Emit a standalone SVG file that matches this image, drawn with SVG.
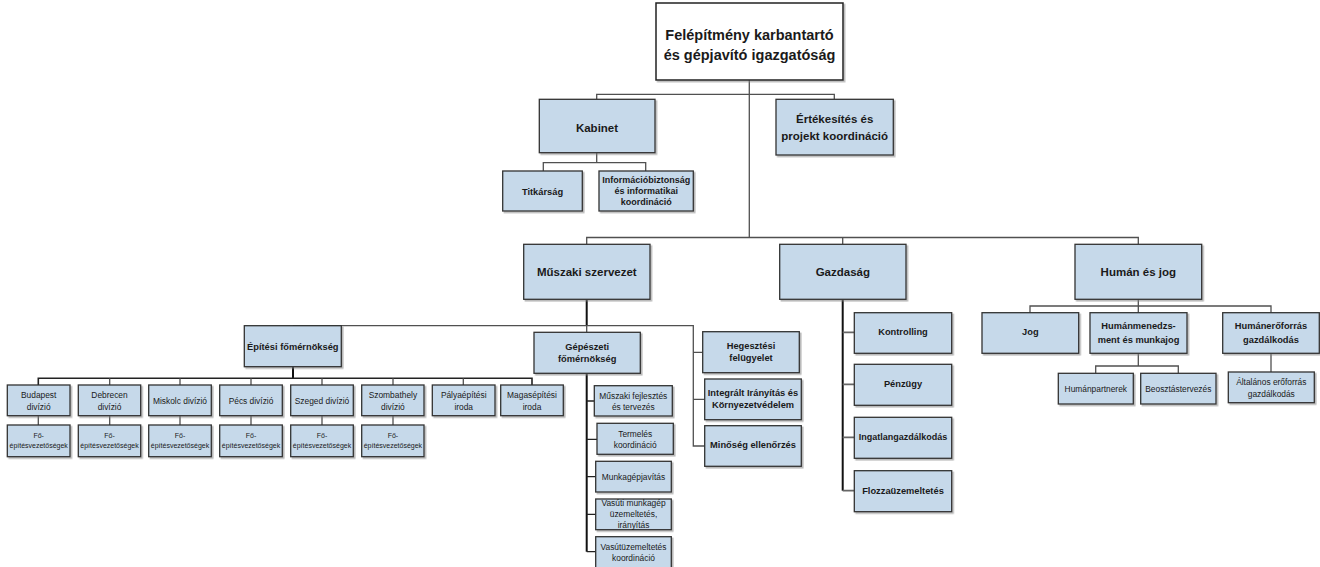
<svg xmlns="http://www.w3.org/2000/svg" width="1320" height="567" viewBox="0 0 1320 567">
  <defs>
    <filter id="sh" x="-10%" y="-10%" width="130%" height="140%">
      <feDropShadow dx="1.6" dy="1.6" stdDeviation="0.5" flood-color="#7f7f7f" flood-opacity="0.55"/>
    </filter>
    <style>
      .bx { fill: #c6d9ea; stroke: #333; stroke-width: 1.3; filter: url(#sh); }
      .top { fill: #fff; stroke: #222; stroke-width: 1.5; filter: url(#sh); }
      .ln { fill: none; stroke: #505050; stroke-width: 1.3; }
      .lk { fill: none; stroke: #111; stroke-width: 2; }
      text { font-family: "Liberation Sans", Arial, sans-serif; fill: #1a1a1a; text-anchor: middle; }
      .t0 { font-size: 14.5px; font-weight: bold; }
      .t1 { font-size: 11.5px; font-weight: bold; }
      .t2 { font-size: 9.3px; font-weight: bold; }
      .t3 { font-size: 8.4px; }
      .t4 { font-size: 7px; }
    </style>
  </defs>
  <rect width="1320" height="567" fill="#fff"/>

  <g id="connectors">
    <!-- top level -->
    <path class="ln" d="M749.3 80 V237.5 M596.7 99.3 V94.3 H834.3 V99.3"/>
    <path class="ln" d="M596.7 152.7 V162.7 M543.3 171 V162.7 H645.7 V171"/>
    <path class="ln" d="M586.7 244.3 V237.5 H1138.3 V244.3 M842.7 237.5 V244.3"/>
    <!-- technical branch -->
    <path class="lk" d="M586.7 299.3 V325.7"/>
    <path class="ln" d="M293 325.7 H693.3 V446 H704.7 M586.7 325.7 V332.3 M693.3 352.3 H702.7 M693.3 399.3 H704.7"/>
    <path class="lk" d="M293 366.7 V378.3"/>
    <path class="ln" style="stroke:#222;stroke-width:1.6" d="M38.3 385 V378.3 H532 V385"/>
    <path class="ln" d="M109.7 378.3 V385 M180 378.3 V385 M251 378.3 V385 M322 378.3 V385 M393 378.3 V385 M463.3 378.3 V385"/>
    <path class="ln" d="M38.3 415.7 V425 M109.7 415.7 V425 M180 415.7 V425 M251 415.7 V425 M322 415.7 V425 M393 415.7 V425"/>
    <path class="lk" d="M586.7 373.3 V551.7"/>
    <path class="ln" style="stroke:#222" d="M586.7 401 H594.3 M586.7 439.3 H597 M586.7 476.7 H595.7 M586.7 514.3 H595.7 M586.7 551.7 H595.7"/>
    <!-- economy branch -->
    <path class="lk" d="M842.7 299.3 V490.7"/>
    <path class="ln" style="stroke:#666;stroke-width:1.8" d="M842.7 332.3 H854.3 M842.7 384.3 H854.3 M842.7 437.3 H854.3 M842.7 490.7 H854.3"/>
    <!-- human branch -->
    <path class="ln" d="M1138.3 299.3 V306 M1030 312.7 V306 H1271 V312.7 M1138.3 306 V312.7"/>
    <path class="ln" d="M1138.3 353.3 V366 M1095.7 373.3 V366 H1178.3 V373.3"/>
    <path class="ln" d="M1271 353.3 V372"/>
  </g>

  <g id="n-igazgatosag">
    <rect class="top" x="656" y="3" width="187" height="77"/>
    <text class="t0" x="749.5" y="40">Felépítmény karbantartó</text>
    <text class="t0" x="749.5" y="60">és gépjavító igazgatóság</text>
  </g>

  <g id="n-kabinet">
    <rect class="bx" x="539.3" y="99.3" width="115.7" height="53.4"/>
    <text class="t1" x="597" y="131.5">Kabinet</text>
  </g>
  <g id="n-ertekesites">
    <rect class="bx" x="776" y="99.3" width="117.3" height="55.7"/>
    <text class="t1" x="834.7" y="123">Értékesítés és</text>
    <text class="t1" x="834.7" y="140">projekt koordináció</text>
  </g>
  <g id="n-titkarsag">
    <rect class="bx" x="502.7" y="171" width="79.6" height="40"/>
    <text class="t2" x="542.5" y="194.7">Titkárság</text>
  </g>
  <g id="n-infobiztonsag">
    <rect class="bx" x="599" y="171" width="94.3" height="40"/>
    <text class="t2" x="646.2" y="182.5" style="font-size:9px">Információbiztonság</text>
    <text class="t2" x="646.2" y="193.5" style="font-size:9px">és informatikai</text>
    <text class="t2" x="646.2" y="204.5" style="font-size:9px">koordináció</text>
  </g>

  <g id="n-muszaki">
    <rect class="bx" x="523.7" y="244.3" width="126.3" height="55"/>
    <text class="t1" x="586.8" y="275.5">Műszaki szervezet</text>
  </g>
  <g id="n-gazdasag">
    <rect class="bx" x="779.7" y="244.3" width="126.3" height="55"/>
    <text class="t1" x="842.8" y="275.5">Gazdaság</text>
  </g>
  <g id="n-human">
    <rect class="bx" x="1075" y="244.3" width="126.7" height="55"/>
    <text class="t1" x="1138.3" y="275.5">Humán és jog</text>
  </g>

  <g id="n-epitesi">
    <rect class="bx" x="244.3" y="325.7" width="97" height="41"/>
    <text class="t2" x="292.8" y="349.8">Építési főmérnökség</text>
  </g>
  <g id="n-gepeszeti">
    <rect class="bx" x="534" y="332.3" width="106.3" height="41"/>
    <text class="t2" x="587.2" y="349.8">Gépészeti</text>
    <text class="t2" x="587.2" y="362.4">főmérnökség</text>
  </g>
  <g id="n-hegesztesi">
    <rect class="bx" x="702.7" y="331.7" width="96.6" height="41"/>
    <text class="t2" x="751" y="348.8">Hegesztési</text>
    <text class="t2" x="751" y="361.4">felügyelet</text>
  </g>
  <g id="n-integralt">
    <rect class="bx" x="704.7" y="379" width="96.6" height="40.7"/>
    <text class="t2" x="753" y="395.8">Integrált Irányítás és</text>
    <text class="t2" x="753" y="408.4">Környezetvédelem</text>
  </g>
  <g id="n-minoseg">
    <rect class="bx" x="704.7" y="425.7" width="96.6" height="40.6"/>
    <text class="t2" x="753" y="448.4">Minőség ellenőrzés</text>
  </g>

  <!-- divisions -->
  <g id="n-budapest">
    <rect class="bx" x="7.3" y="385" width="62.7" height="30.7"/>
    <text class="t3" x="38.7" y="397.8">Budapest</text>
    <text class="t3" x="38.7" y="409.5">divízió</text>
  </g>
  <g id="n-budapest-fo">
    <rect class="bx" x="7.3" y="425" width="62.7" height="31.7"/>
    <text class="t4" x="38.7" y="438.3">Fő-</text>
    <text class="t4" x="38.7" y="447.6">építésvezetőségek</text>
  </g>
  <g id="n-debrecen">
    <rect class="bx" x="78.3" y="385" width="62.4" height="30.7"/>
    <text class="t3" x="109.5" y="397.8">Debrecen</text>
    <text class="t3" x="109.5" y="409.5">divízió</text>
  </g>
  <g id="n-debrecen-fo">
    <rect class="bx" x="78.3" y="425" width="62.4" height="31.7"/>
    <text class="t4" x="109.5" y="438.3">Fő-</text>
    <text class="t4" x="109.5" y="447.6">építésvezetőségek</text>
  </g>
  <g id="n-miskolc">
    <rect class="bx" x="148.7" y="385" width="62.6" height="30.7"/>
    <text class="t3" x="180" y="404.1">Miskolc divízió</text>
  </g>
  <g id="n-miskolc-fo">
    <rect class="bx" x="148.7" y="425" width="62.6" height="31.7"/>
    <text class="t4" x="180" y="438.3">Fő-</text>
    <text class="t4" x="180" y="447.6">építésvezetőségek</text>
  </g>
  <g id="n-pecs">
    <rect class="bx" x="219.7" y="385" width="62.6" height="30.7"/>
    <text class="t3" x="251" y="404.1">Pécs divízió</text>
  </g>
  <g id="n-pecs-fo">
    <rect class="bx" x="219.7" y="425" width="62.6" height="31.7"/>
    <text class="t4" x="251" y="438.3">Fő-</text>
    <text class="t4" x="251" y="447.6">építésvezetőségek</text>
  </g>
  <g id="n-szeged">
    <rect class="bx" x="290.7" y="385" width="62.6" height="30.7"/>
    <text class="t3" x="322" y="404.1">Szeged divízió</text>
  </g>
  <g id="n-szeged-fo">
    <rect class="bx" x="290.7" y="425" width="62.6" height="31.7"/>
    <text class="t4" x="322" y="438.3">Fő-</text>
    <text class="t4" x="322" y="447.6">építésvezetőségek</text>
  </g>
  <g id="n-szombathely">
    <rect class="bx" x="361.7" y="385" width="62.3" height="30.7"/>
    <text class="t3" x="392.9" y="397.8">Szombathely</text>
    <text class="t3" x="392.9" y="409.5">divízió</text>
  </g>
  <g id="n-szombathely-fo">
    <rect class="bx" x="361.7" y="425" width="62.3" height="31.7"/>
    <text class="t4" x="392.9" y="438.3">Fő-</text>
    <text class="t4" x="392.9" y="447.6">építésvezetőségek</text>
  </g>
  <g id="n-palyaepitesi">
    <rect class="bx" x="432.3" y="385" width="62.7" height="30.7"/>
    <text class="t3" x="463.7" y="397.8">Pályaépítési</text>
    <text class="t3" x="463.7" y="409.5">iroda</text>
  </g>
  <g id="n-magasepitesi">
    <rect class="bx" x="500.7" y="385" width="62.6" height="30.7"/>
    <text class="t3" x="532" y="397.8">Magasépítési</text>
    <text class="t3" x="532" y="409.5">iroda</text>
  </g>

  <!-- mechanical engineering units -->
  <g id="n-fejlesztes">
    <rect class="bx" x="594.3" y="385.7" width="78" height="30.3"/>
    <text class="t3" x="633.3" y="398.5">Műszaki fejlesztés</text>
    <text class="t3" x="633.3" y="409.5">és tervezés</text>
  </g>
  <g id="n-termeles">
    <rect class="bx" x="597" y="423.3" width="76.3" height="31"/>
    <text class="t3" x="635.2" y="436.5">Termelés</text>
    <text class="t3" x="635.2" y="447.8">koordináció</text>
  </g>
  <g id="n-munkagepjavitas">
    <rect class="bx" x="595.7" y="461.3" width="75.6" height="30.7"/>
    <text class="t3" x="633.5" y="479.5">Munkagépjavítás</text>
  </g>
  <g id="n-vasuti-munkagep">
    <rect class="bx" x="595.7" y="499" width="75.6" height="30.7"/>
    <text class="t3" x="633.5" y="506">Vasúti munkagép</text>
    <text class="t3" x="633.5" y="517">üzemeltetés,</text>
    <text class="t3" x="633.5" y="528.3">irányítás</text>
  </g>
  <g id="n-vasutuzemeltetes">
    <rect class="bx" x="595.7" y="536.7" width="75.6" height="32"/>
    <text class="t3" x="633.5" y="549.8">Vasútüzemeltetés</text>
    <text class="t3" x="633.5" y="560.8">koordináció</text>
  </g>

  <!-- economy units -->
  <g id="n-kontrolling">
    <rect class="bx" x="854.3" y="312.7" width="97.4" height="40.6"/>
    <text class="t2" x="903" y="335.2">Kontrolling</text>
  </g>
  <g id="n-penzugy">
    <rect class="bx" x="854.3" y="364.3" width="97.4" height="41"/>
    <text class="t2" x="903" y="387.4">Pénzügy</text>
  </g>
  <g id="n-ingatlan">
    <rect class="bx" x="854.3" y="417.3" width="97.4" height="41"/>
    <text class="t2" x="903" y="440.3" style="font-size:9px">Ingatlangazdálkodás</text>
  </g>
  <g id="n-flozza">
    <rect class="bx" x="854.3" y="470.7" width="97.4" height="41"/>
    <text class="t2" x="903" y="493.8">Flozzaüzemeltetés</text>
  </g>

  <!-- human and legal units -->
  <g id="n-jog">
    <rect class="bx" x="982" y="312.7" width="96.7" height="40.6"/>
    <text class="t2" x="1030.3" y="335.2">Jog</text>
  </g>
  <g id="n-humanmenedzsment">
    <rect class="bx" x="1090" y="312.7" width="97" height="40.6"/>
    <text class="t2" x="1138.5" y="328.8">Humánmenedzs-</text>
    <text class="t2" x="1138.5" y="343.4">ment és munkajog</text>
  </g>
  <g id="n-humaneroforras">
    <rect class="bx" x="1222.7" y="312.7" width="96.6" height="40.6"/>
    <text class="t2" x="1271" y="328.8">Humánerőforrás</text>
    <text class="t2" x="1271" y="343.4">gazdálkodás</text>
  </g>
  <g id="n-humanpartnerek">
    <rect class="bx" x="1058.3" y="373.3" width="75" height="30.7"/>
    <text class="t3" x="1095.8" y="392">Humánpartnerek</text>
  </g>
  <g id="n-beosztastervezes">
    <rect class="bx" x="1140.7" y="373.3" width="75.3" height="30.7"/>
    <text class="t3" x="1178.3" y="392">Beosztástervezés</text>
  </g>
  <g id="n-altalanos">
    <rect class="bx" x="1228.3" y="372" width="86" height="30.7"/>
    <text class="t3" x="1271.3" y="384.8">Általános erőforrás</text>
    <text class="t3" x="1271.3" y="396.8">gazdálkodás</text>
  </g>
</svg>
